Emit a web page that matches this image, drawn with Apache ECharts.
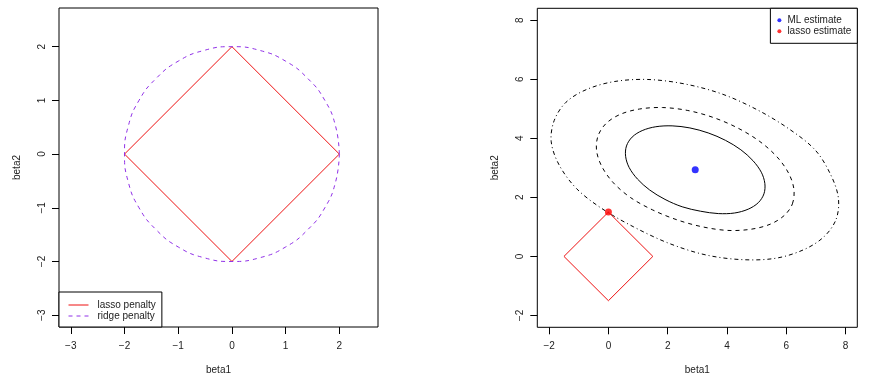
<!DOCTYPE html>
<html><head><meta charset="utf-8">
<script src="https://cdn.jsdelivr.net/npm/echarts@6/dist/echarts.min.js"></script>
<style>html,body{margin:0;padding:0;background:#fff}#c{width:871px;height:384px}</style>
</head><body><div id="c"></div>
<script>
// ---- data ----
const leftTicks = [-3, -2, -1, 0, 1, 2];
const rightTicks = [-2, 0, 2, 4, 6, 8];
const lassoPenalty = [[2,0],[0,2],[-2,0],[0,-2],[2,0]];
const ridgePenalty = [[2,0],[1.93,0.52],[1.73,1],[1.41,1.41],[1,1.73],[0.52,1.93],[0,2],[-0.52,1.93],[-1,1.73],[-1.41,1.41],[-1.73,1],[-1.93,0.52],[-2,0],[-1.93,-0.52],[-1.73,-1],[-1.41,-1.41],[-1,-1.73],[-0.52,-1.93],[0,-2],[0.52,-1.93],[1,-1.73],[1.41,-1.41],[1.73,-1],[1.93,-0.52],[2,0]];
const lassoRegion = [[1.5,0],[0,1.5],[-1.5,0],[0,-1.5],[1.5,0]];
const mlEstimate = [[2.93,2.93]];
const lassoEstimate = [[0,1.5]];
const contourInner = [[5.25,2.12],[5.28,2.47],[5.16,2.85],[4.88,3.24],[4.47,3.61],[3.95,3.93],[3.37,4.18],[2.75,4.35],[2.15,4.42],[1.60,4.39],[1.14,4.26],[0.80,4.04],[0.61,3.74],[0.58,3.39],[0.70,3.01],[0.98,2.62],[1.39,2.25],[1.91,1.93],[2.49,1.68],[3.11,1.53],[3.71,1.45],[4.26,1.47],[4.72,1.60],[5.06,1.82]];
const contourMiddle = [[6.21,1.78],[6.26,2.28],[6.08,2.82],[5.69,3.37],[5.11,3.89],[4.38,4.34],[3.55,4.70],[2.68,4.94],[1.83,5.04],[1.05,4.99],[0.40,4.81],[-0.08,4.50],[-0.35,4.08],[-0.40,3.58],[-0.22,3.04],[0.17,2.49],[0.75,1.99],[1.48,1.58],[2.31,1.24],[3.18,1.00],[4.03,0.88],[4.81,0.92],[5.46,1.09],[5.94,1.39]];
const contourOuter = [[7.69,1.27],[7.76,1.99],[7.50,2.77],[6.98,3.60],[6.09,4.32],[5.03,4.96],[3.83,5.50],[2.57,5.84],[1.33,5.99],[0.20,5.92],[-0.74,5.65],[-1.43,5.22],[-1.83,4.60],[-1.93,3.88],[-1.66,3.09],[-1.07,2.29],[-0.22,1.62],[0.85,1.00],[2.05,0.44],[3.29,0.05],[4.53,-0.11],[5.66,-0.06],[6.62,0.24],[7.29,0.68]];

const FONT = 'Liberation Sans, Arial, sans-serif';
const TXT = '#222';
const fmt = v => (v < 0 ? '\u2212' + Math.abs(v) : String(v));

function axis(gridIndex, min, max, ticks, name, isY) {
  return {
    type: 'value', gridIndex, min, max, name,
    nameLocation: 'middle', nameGap: isY ? 37 : 38,
    nameTextStyle: { fontSize: 10, color: TXT, fontFamily: FONT },
    axisLine: { show: false, onZero: false },
    splitLine: { show: false },
    axisTick: { show: true, length: 7, customValues: ticks, lineStyle: { color: '#000', width: 1 } },
    axisLabel: { customValues: ticks, formatter: fmt, fontSize: 10, color: TXT, fontFamily: FONT,
                 margin: isY ? 12 : 14, rotate: isY ? 90 : 0 }
  };
}

function contour(points, dash) {
  return {
    type: 'custom', xAxisIndex: 1, yAxisIndex: 1, silent: true, z: 2,
    data: [points[0]],
    renderItem: (params, api) => ({
      type: 'polygon',
      shape: { points: points.map(p => api.coord(p)), smooth: 0.33 },
      style: { fill: 'none', stroke: '#000', lineWidth: 1, lineDash: dash }
    })
  };
}

const chart = echarts.init(document.getElementById('c'), null, { renderer: 'canvas' });
chart.setOption({
  animation: false,
  backgroundColor: '#fff',
  grid: [
    { left: 59, top: 8, width: 319, height: 319, show: true, borderColor: '#000', borderWidth: 1, backgroundColor: 'transparent' },
    { left: 537.3, top: 8.3, width: 320, height: 319, show: true, borderColor: '#000', borderWidth: 1, backgroundColor: 'transparent' }
  ],
  xAxis: [
    axis(0, -3.22, 2.72, leftTicks, 'beta1', false),
    axis(1, -2.4, 8.4, rightTicks, 'beta1', false)
  ],
  yAxis: [
    axis(0, -3.22, 2.72, leftTicks, 'beta2', true),
    axis(1, -2.4, 8.4, rightTicks, 'beta2', true)
  ],
  legend: [
    {
      data: ['lasso penalty', 'ridge penalty'], orient: 'vertical',
      left: 59, bottom: 57, padding: [8, 6, 6, 9], itemGap: 1,
      itemWidth: 20, itemHeight: 10,
      itemStyle: { opacity: 0 },
      lineStyle: { width: 1 },
      borderColor: '#000', borderWidth: 1, backgroundColor: '#fff',
      textStyle: { fontSize: 10, color: TXT, fontFamily: FONT, padding: [0, 0, 0, 4] },
      selectedMode: false
    },
    {
      data: ['ML estimate', 'lasso estimate'], orient: 'vertical',
      right: 13.7, top: 8.3, padding: [7, 6, 7, 7], itemGap: 1,
      itemWidth: 4, itemHeight: 4,
      borderColor: '#000', borderWidth: 1, backgroundColor: '#fff',
      textStyle: { fontSize: 10, color: TXT, fontFamily: FONT, padding: [0, 0, 0, 1] },
      selectedMode: false
    }
  ],
  series: [
    { name: 'lasso penalty', type: 'line', xAxisIndex: 0, yAxisIndex: 0, data: lassoPenalty,
      symbol: 'none', lineStyle: { color: '#ee1111', width: 1 }, itemStyle: { color: '#ee1111' } },
    { name: 'ridge penalty', type: 'line', xAxisIndex: 0, yAxisIndex: 0, data: ridgePenalty,
      symbol: 'none', smooth: 0.5, lineStyle: { color: '#9030e8', width: 1, type: [4, 4] }, itemStyle: { color: '#9030e8' } },
    contour(contourInner, null),
    contour(contourMiddle, [4, 4]),
    contour(contourOuter, [1, 3, 4, 3]),
    { name: 'lasso region', type: 'line', xAxisIndex: 1, yAxisIndex: 1, data: lassoRegion,
      symbol: 'none', lineStyle: { color: '#ee1111', width: 1 }, z: 3 },
    { name: 'ML estimate', type: 'scatter', xAxisIndex: 1, yAxisIndex: 1, data: mlEstimate,
      symbol: 'circle', symbolSize: 7, itemStyle: { color: '#0000ff' }, z: 4 },
    { name: 'lasso estimate', type: 'scatter', xAxisIndex: 1, yAxisIndex: 1, data: lassoEstimate,
      symbol: 'circle', symbolSize: 7, itemStyle: { color: '#ff0000' }, z: 4 }
  ]
});
</script></body></html>
